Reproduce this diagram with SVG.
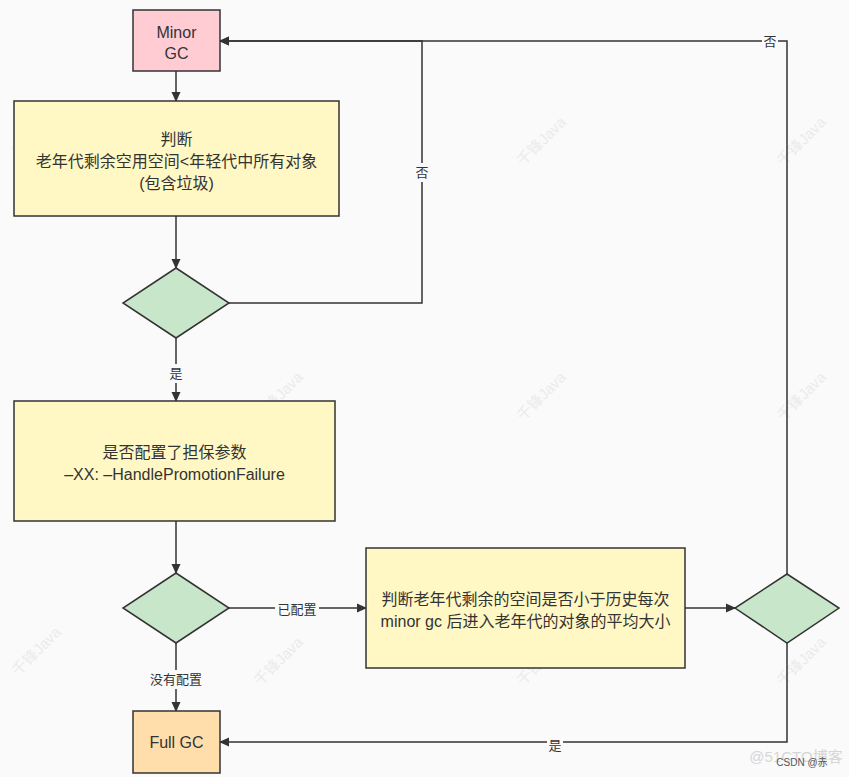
<svg xmlns="http://www.w3.org/2000/svg" width="849" height="777" viewBox="0 0 849 777">
<defs>
<marker id="arr" markerWidth="10" markerHeight="10" refX="9" refY="5" orient="auto" markerUnits="userSpaceOnUse">
<path d="M0,0.5 L10,5 L0,9.5 Z" fill="#333"/>
</marker>
<style>
.box{stroke:#333;stroke-width:1.5}
.dia{fill:#c8e6c9;stroke:#333;stroke-width:1.5}
.t{font-family:"Liberation Sans","Noto Sans CJK SC",sans-serif;font-size:16px;fill:#333;text-anchor:middle}
.lbl{font-family:"Liberation Sans","Noto Sans CJK SC",sans-serif;font-size:13px;fill:#333;text-anchor:middle}
.c{fill:none;stroke:#333;stroke-width:1.5}
.wm{font-family:"Liberation Sans","Noto Sans CJK SC",sans-serif;font-size:15px;fill:#ebebeb;text-anchor:middle}
.lb{fill:#fafafa}
</style>
</defs>
<rect width="849" height="777" fill="#fafafa"/>
<g id="watermarks">
<text class="wm" transform="translate(545,145) rotate(-45)">千锋Java</text>
<text class="wm" transform="translate(805,145) rotate(-45)">千锋Java</text>
<text class="wm" transform="translate(282,400) rotate(-45)">千锋Java</text>
<text class="wm" transform="translate(545,400) rotate(-45)">千锋Java</text>
<text class="wm" transform="translate(805,400) rotate(-45)">千锋Java</text>
<text class="wm" transform="translate(40,655) rotate(-45)">千锋Java</text>
<text class="wm" transform="translate(282,665) rotate(-45)">千锋Java</text>
<text class="wm" transform="translate(545,665) rotate(-45)">千锋Java</text>
<text class="wm" transform="translate(805,665) rotate(-45)">千锋Java</text>
<text class="wm" transform="translate(40,135) rotate(-45)">千锋Java</text>
</g>
<g id="connectors">
<line class="c" x1="176" y1="71" x2="176" y2="101" marker-end="url(#arr)"/>
<line class="c" x1="176" y1="216" x2="176" y2="268" marker-end="url(#arr)"/>
<polyline class="c" points="229,303 422,303 422,41 220,41" marker-end="url(#arr)"/>
<line class="c" x1="176" y1="338" x2="176" y2="401" marker-end="url(#arr)"/>
<line class="c" x1="176" y1="521" x2="176" y2="573" marker-end="url(#arr)"/>
<line class="c" x1="229" y1="608" x2="366" y2="608" marker-end="url(#arr)"/>
<line class="c" x1="176" y1="643" x2="176" y2="711" marker-end="url(#arr)"/>
<line class="c" x1="685" y1="608" x2="735" y2="608" marker-end="url(#arr)"/>
<polyline class="c" points="787,574 787,41 220,41" marker-end="url(#arr)"/>
<polyline class="c" points="787,643 787,742 220,742" marker-end="url(#arr)"/>
<rect class="lb" x="414" y="163" width="16" height="19"/>
<text class="lbl" x="422" y="177">否</text>
<rect class="lb" x="168" y="364" width="16" height="19"/>
<text class="lbl" x="176" y="378">是</text>
<rect class="lb" x="275" y="600" width="44" height="19"/>
<text class="lbl" x="297" y="614">已配置</text>
<rect class="lb" x="147" y="670" width="58" height="19"/>
<text class="lbl" x="176" y="684">没有配置</text>
<rect class="lb" x="762" y="32" width="16" height="19"/>
<text class="lbl" x="770" y="46">否</text>
<rect class="lb" x="547" y="736" width="16" height="19"/>
<text class="lbl" x="555" y="750">是</text>
</g>
<g id="minor-gc">
<rect class="box" x="133" y="10" width="87" height="61" fill="#ffccd3"/>
<text class="t" x="176.5" y="38">Minor</text>
<text class="t" x="176.5" y="59">GC</text>
</g>
<g id="judge1">
<rect class="box" x="14" y="101" width="325" height="115" fill="#fff8c4"/>
<text class="t" x="176.5" y="145">判断</text>
<text class="t" x="176.5" y="167">老年代剩余空用空间&lt;年轻代中所有对象</text>
<text class="t" x="176.5" y="189">(包含垃圾)</text>
</g>
<g id="decision1">
<polygon class="dia" points="176,268 229,303 176,338 123,303"/>
</g>
<g id="config">
<rect class="box" x="14" y="401" width="321" height="120" fill="#fff8c4"/>
<text class="t" x="174.5" y="458">是否配置了担保参数</text>
<text class="t" x="174.5" y="480">–XX: –HandlePromotionFailure</text>
</g>
<g id="decision2">
<polygon class="dia" points="176,573 229,608 176,643 123,608"/>
</g>
<g id="judge2">
<rect class="box" x="366" y="548" width="319" height="120" fill="#fff8c4"/>
<text class="t" x="525.5" y="605">判断老年代剩余的空间是否小于历史每次</text>
<text class="t" x="525.5" y="627">minor gc 后进入老年代的对象的平均大小</text>
</g>
<g id="decision3">
<polygon class="dia" points="787,574 839,608 787,643 735,608"/>
</g>
<g id="full-gc">
<rect class="box" x="133" y="711" width="87" height="62" fill="#ffdeab"/>
<text class="t" x="176.5" y="748">Full GC</text>
</g>
<g id="credits">
<text x="796" y="762" font-family="Liberation Sans,Noto Sans CJK SC,sans-serif" font-size="15" fill="#d6d6d6" text-anchor="middle">@51CTO博客</text>
<text x="802" y="766" font-family="Liberation Sans,Noto Sans CJK SC,sans-serif" font-size="10" fill="#555" text-anchor="middle">CSDN @赤</text>
</g>
</svg>
